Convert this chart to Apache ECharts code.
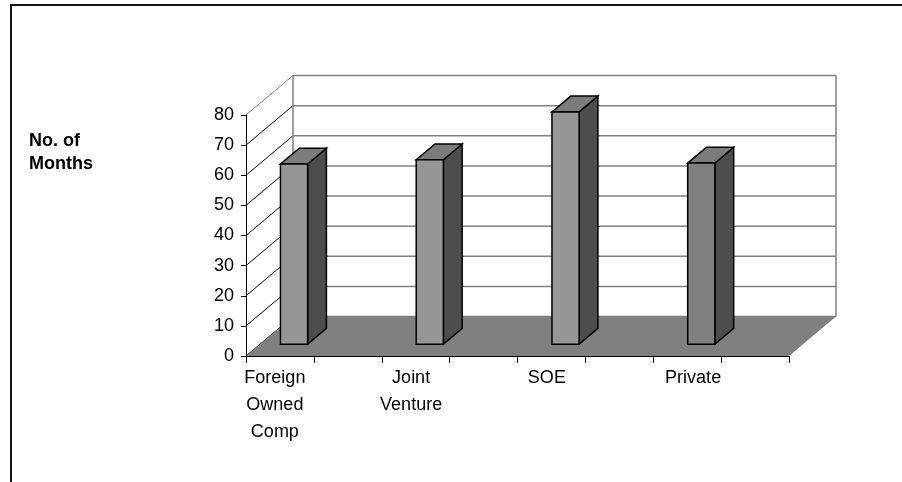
<!DOCTYPE html>
<html>
<head>
<meta charset="utf-8">
<style>
  html, body { margin: 0; padding: 0; background: #ffffff; }
  #chart { width: 902px; height: 482px; }
</style>
<script src="https://cdn.jsdelivr.net/npm/echarts@6/dist/echarts.min.js"></script>
</head>
<body>
<div id="chart"></div>
<script>
// Average duration per ownership type
const categories = ['Foreign\nOwned\nComp', 'Joint\nVenture', 'SOE', 'Private'];
const months = [59.8, 61.2, 77.1, 60.1];
const yTicks = [0, 10, 20, 30, 40, 50, 60, 70, 80];

// Pseudo-3D depth vector of the plot box (pixels)
const DEPTH = { dx: 47, dy: -39.5 };
// Bar placement inside the depth and inside each category band
const BAR_DEPTH_START = 0.3, BAR_DEPTH = 0.4;
const BAR_OFFSET = 0.15, BAR_WIDTH = 0.2;
const FRONT_COLORS = ['#969696', '#969696', '#969696', '#808080'];
const LABEL_SHIFT = [78, 77, 77, 56];
const FONT = 'Liberation Sans, Arial, sans-serif';
const FONT_SIZE = 18;

const chart = echarts.init(document.getElementById('chart'), null, { renderer: 'canvas' });

function shift(p, f) {
  return [p[0] + DEPTH.dx * f, p[1] + DEPTH.dy * f];
}

// Back wall gridlines and side-wall diagonals, one per y tick
function renderWalls(params, api) {
  const v = api.value(0);
  const front = api.coord([0, v]);
  const frontRight = api.coord([8, v]);
  const back = shift(front, 1);
  const backRight = shift(frontRight, 1);
  const isTop = v === yTicks[yTicks.length - 1];
  return {
    type: 'group',
    children: [
      { type: 'line', shape: { x1: back[0], y1: back[1], x2: backRight[0], y2: backRight[1] },
        style: { stroke: '#808080', lineWidth: 1.5 } },
      { type: 'line', shape: { x1: front[0], y1: front[1], x2: back[0], y2: back[1] },
        style: { stroke: isTop ? '#808080' : '#000000', lineWidth: 1 } }
    ]
  };
}

// Floor plane and back wall outline
function renderFloor(params, api) {
  const fl = api.coord([0, 0]);
  const fr = api.coord([8, 0]);
  const tl = api.coord([0, yTicks[yTicks.length - 1]]);
  const tr = api.coord([8, yTicks[yTicks.length - 1]]);
  const bl = shift(fl, 1), br = shift(fr, 1), btl = shift(tl, 1), btr = shift(tr, 1);
  return {
    type: 'group',
    children: [
      { type: 'line', shape: { x1: bl[0], y1: bl[1], x2: btl[0], y2: btl[1] },
        style: { stroke: '#808080', lineWidth: 1.5 } },
      { type: 'line', shape: { x1: br[0], y1: br[1], x2: btr[0], y2: btr[1] },
        style: { stroke: '#808080', lineWidth: 1.5 } },
      { type: 'polygon', shape: { points: [fl, fr, br, bl] },
        style: { fill: '#808080', stroke: null } }
    ]
  };
}

// 3D-looking column: front face, side face and top face
function renderBar(params, api) {
  const i = api.value(0);
  const v = api.value(1);
  const band = api.size([1, 0])[0];
  const base = api.coord([i, 0]);
  const top = api.coord([i, v]);
  const ox = base[0] - band / 2 + DEPTH.dx * BAR_DEPTH_START + BAR_OFFSET * band;
  const yb = base[1] + DEPTH.dy * BAR_DEPTH_START;
  const yt = top[1] + DEPTH.dy * BAR_DEPTH_START;
  const w = BAR_WIDTH * band;
  const bx = DEPTH.dx * BAR_DEPTH, by = DEPTH.dy * BAR_DEPTH;
  const edge = { stroke: '#000000', lineWidth: 1.5, lineJoin: 'miter' };
  return {
    type: 'group',
    children: [
      { type: 'polygon', shape: { points: [[ox + w, yb], [ox + w + bx, yb + by], [ox + w + bx, yt + by], [ox + w, yt]] },
        style: Object.assign({ fill: '#4d4d4d' }, edge) },
      { type: 'polygon', shape: { points: [[ox, yt], [ox + w, yt], [ox + w + bx, yt + by], [ox + bx, yt + by]] },
        style: Object.assign({ fill: '#7c7c7c' }, edge) },
      { type: 'polygon', shape: { points: [[ox, yb], [ox + w, yb], [ox + w, yt], [ox, yt]] },
        style: Object.assign({ fill: FRONT_COLORS[i] }, edge) }
    ]
  };
}

const rich = {};
LABEL_SHIFT.forEach((s, k) => {
  rich['c' + k] = { fontSize: FONT_SIZE, lineHeight: 27, color: '#000000', fontFamily: FONT, padding: [0, s, 0, 0] };
});

chart.setOption({
  animation: false,
  backgroundColor: '#ffffff',
  title: {
    text: 'No. of\nMonths',
    left: 29,
    top: 130,
    padding: 0,
    textStyle: { fontSize: FONT_SIZE, fontWeight: 'bold', fontFamily: FONT, color: '#000000', lineHeight: 23 }
  },
  graphic: [
    { type: 'rect', z: 100, shape: { x: 11, y: 5, width: 1000, height: 1000 },
      style: { fill: null, stroke: '#141414', lineWidth: 2 } }
  ],
  grid: { left: 246, top: 115, width: 543, height: 241, containLabel: false },
  xAxis: [
    {
      type: 'category',
      data: categories,
      boundaryGap: true,
      axisLine: { show: false },
      axisTick: { show: false },
      splitLine: { show: false },
      axisLabel: {
        interval: 0,
        margin: 9,
        fontSize: FONT_SIZE,
        lineHeight: 27,
        color: '#000000',
        fontFamily: FONT,
        formatter: (value, index) => value.split('\n').map(l => '{c' + index + '|' + l + '}').join('\n'),
        rich: rich
      }
    },
    {
      type: 'value',
      min: 0, max: 8, interval: 1,
      position: 'bottom',
      z: 10,
      axisLine: { show: true, lineStyle: { color: '#000000', width: 1 } },
      axisTick: { show: true, length: 7, inside: false, lineStyle: { color: '#000000' } },
      axisLabel: { show: false },
      splitLine: { show: false }
    }
  ],
  yAxis: {
    type: 'value',
    min: 0, max: 80, interval: 10,
    z: 10,
    axisLine: { show: true, lineStyle: { color: '#000000', width: 1 } },
    axisTick: { show: true, length: 5, lineStyle: { color: '#000000' } },
    splitLine: { show: false },
    axisLabel: { margin: 12, fontSize: FONT_SIZE, color: '#000000', fontFamily: FONT }
  },
  series: [
    {
      type: 'custom', xAxisIndex: 1, yAxisIndex: 0, z: 1,
      renderItem: renderWalls,
      data: yTicks.map(v => [v]),
      encode: { y: 0 },
      silent: true
    },
    {
      type: 'custom', xAxisIndex: 1, yAxisIndex: 0, z: 2,
      renderItem: renderFloor,
      data: [[0]],
      silent: true
    },
    {
      type: 'custom', xAxisIndex: 0, yAxisIndex: 0, z: 3,
      renderItem: renderBar,
      data: months.map((v, i) => [i, v]),
      encode: { x: 0, y: 1 }
    }
  ]
});
</script>
</body>
</html>
